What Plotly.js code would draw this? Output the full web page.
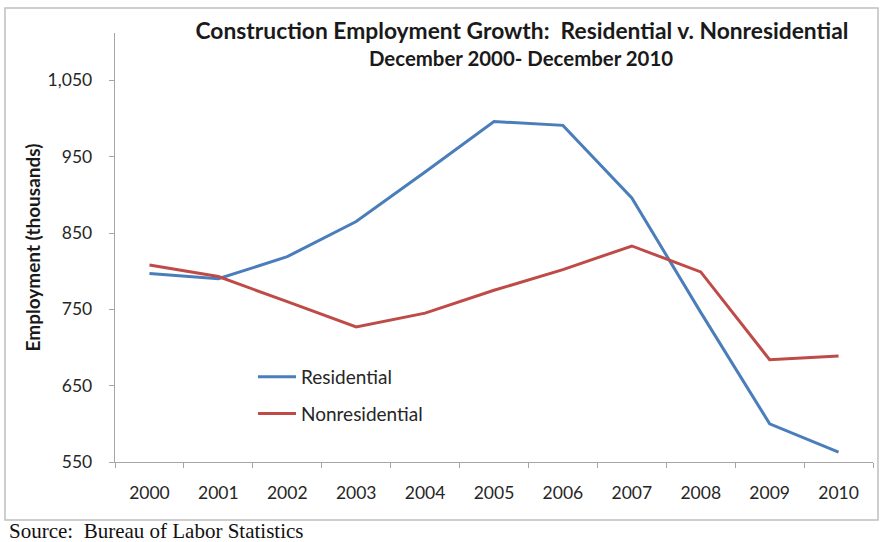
<!DOCTYPE html>
<html>
<head>
<meta charset="utf-8">
<script src="https://cdn.plot.ly/plotly-3.0.1.min.js"></script>
<style>html,body{margin:0;padding:0;background:#fff;}#chart{width:882px;height:542px;}</style>
</head>
<body>
<div id="chart"></div>
<script>
var years = ["2000","2001","2002","2003","2004","2005","2006","2007","2008","2009","2010"];
var residential = [797, 790, 819, 865, 930, 996, 991, 896, 746, 600, 563];
var nonresidential = [808, 793, 760, 727, 745, 775, 802, 833, 799, 684, 689];
var yTicks = [550, 650, 750, 850, 950, 1050];

var FONT = "Lato, 'Open Sans', sans-serif";
var TXT = "#262626";

var traces = [
  {x: years, y: residential, name: "Residential", type: "scatter", mode: "lines",
   line: {color: "#4A7EBB", width: 3}, legendgroup: "a"},
  {x: years, y: nonresidential, name: "Nonresidential", type: "scatter", mode: "lines",
   line: {color: "#BE4B48", width: 3}, legendgroup: "b"}
];

var layout = {
  width: 882, height: 542,
  margin: {l: 115, r: 9, t: 33, b: 80},
  paper_bgcolor: "#fff", plot_bgcolor: "#fff",
  font: {family: FONT, color: TXT},
  title: {
    text: "Construction Employment Growth:\u00a0 Residential v. Nonresidential",
    x: 522/882, xanchor: "center", y: 1 - 31/542, yanchor: "middle",
    font: {family: FONT, size: 22.8, weight: 700, color: "#1a1a1a"}
  },
  xaxis: {
    type: "category", range: [-0.5, 10.5], tickson: "boundaries",
    ticks: "outside", ticklen: 5, tickcolor: "#a6a6a6", tickwidth: 1,
    showline: true, linecolor: "#a6a6a6", linewidth: 1.3,
    showgrid: false, zeroline: false, fixedrange: true,
    tickfont: {family: FONT, size: 17.5, color: TXT}, ticklabelstandoff: 15
  },
  yaxis: {
    range: [550, 1112], tickvals: yTicks, tickformat: ",d",
    ticks: "outside", ticklen: 5, tickcolor: "#a6a6a6", tickwidth: 1,
    showline: true, linecolor: "#a6a6a6", linewidth: 1.3,
    showgrid: false, zeroline: false, fixedrange: true,
    tickfont: {family: FONT, size: 17.5, color: TXT}, ticklabelstandoff: 13,
    title: {text: "Employment (thousands)", standoff: 2,
            font: {family: FONT, size: 19, weight: 700, color: "#1a1a1a"}}
  },
  legend: {
    x: (253-115)/758, xanchor: "left", y: (462-358)/429, yanchor: "top",
    bgcolor: "rgba(0,0,0,0)", font: {family: FONT, size: 19, color: TXT},
    traceorder: "grouped", tracegroupgap: 9, itemwidth: 38
  },
  showlegend: true,
  annotations: [
    {text: "December 2000- December 2010", xref: "paper", yref: "paper",
     x: (521-115)/758, y: (462-58)/429, xanchor: "center", yanchor: "middle",
     showarrow: false, font: {family: FONT, size: 20.4, weight: 700, color: "#1a1a1a"}},
    {text: "Source:\u00a0 Bureau of Labor Statistics", xref: "paper", yref: "paper",
     x: (7-115)/758, y: (462-531)/429, xanchor: "left", yanchor: "middle",
     showarrow: false, font: {family: "'Liberation Serif', 'Times New Roman', serif", size: 21, color: "#111"}}
  ],
  shapes: [
    {type: "rect", xref: "paper", yref: "paper",
     x0: (5-115)/758, x1: (878-115)/758, y0: (462-520)/429, y1: (462-8)/429,
     line: {color: "#bfbfbf", width: 1.5}, fillcolor: "rgba(0,0,0,0)"}
  ]
};

Plotly.newPlot("chart", traces, layout, {staticPlot: true, displayModeBar: false});
</script>
</body>
</html>
